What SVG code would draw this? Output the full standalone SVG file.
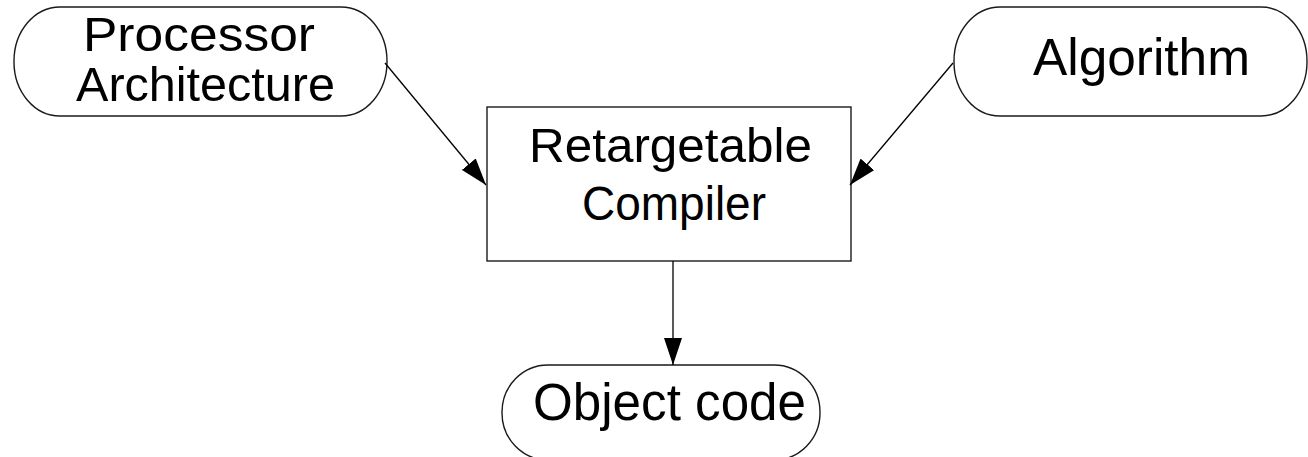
<svg xmlns="http://www.w3.org/2000/svg" width="1308" height="457" viewBox="0 0 1308 457">
  <style>
    .shape { fill: #ffffff; stroke: #1a1a1a; stroke-width: 1.4; }
    .label { font-family: "Liberation Sans", Arial, sans-serif; fill: #000000; }
    .edge { stroke: #000000; stroke-width: 1.3; fill: none; }
  </style>
  <defs>
    <marker id="arrow" viewBox="0 0 27 18" refX="27" refY="9" markerWidth="27" markerHeight="18" markerUnits="userSpaceOnUse" orient="auto">
      <path d="M0,0 L27,9 L0,18 z" fill="#000000"/>
    </marker>
  </defs>
  <rect width="1308" height="457" fill="#ffffff"/>

  <g id="processor-architecture">
    <rect class="shape" x="14" y="7" width="373" height="109" rx="46" ry="54"/>
    <text class="label" x="83" y="51" font-size="48" textLength="232" lengthAdjust="spacingAndGlyphs">Processor</text>
    <text class="label" x="76" y="101" font-size="48" textLength="259" lengthAdjust="spacingAndGlyphs">Architecture</text>
  </g>

  <g id="algorithm">
    <rect class="shape" x="954" y="7" width="353" height="109" rx="46" ry="54"/>
    <text class="label" x="1033" y="75" font-size="52" textLength="217" lengthAdjust="spacingAndGlyphs">Algorithm</text>
  </g>

  <g id="retargetable-compiler">
    <rect class="shape" x="487" y="107" width="364" height="154"/>
    <text class="label" x="529" y="161.5" font-size="48" textLength="283" lengthAdjust="spacingAndGlyphs">Retargetable</text>
    <text class="label" x="582" y="219.5" font-size="48" textLength="184" lengthAdjust="spacingAndGlyphs">Compiler</text>
  </g>

  <g id="object-code">
    <rect class="shape" x="502" y="365" width="318" height="95" rx="46" ry="47"/>
    <text class="label" x="533" y="420" font-size="51" textLength="273" lengthAdjust="spacingAndGlyphs">Object code</text>
  </g>

  <g id="connectors">
    <line class="edge" x1="385" y1="63" x2="486" y2="185" marker-end="url(#arrow)"/>
    <line class="edge" x1="953" y1="63" x2="850" y2="185" marker-end="url(#arrow)"/>
    <line class="edge" x1="673" y1="261" x2="673" y2="365" marker-end="url(#arrow)"/>
  </g>
</svg>
